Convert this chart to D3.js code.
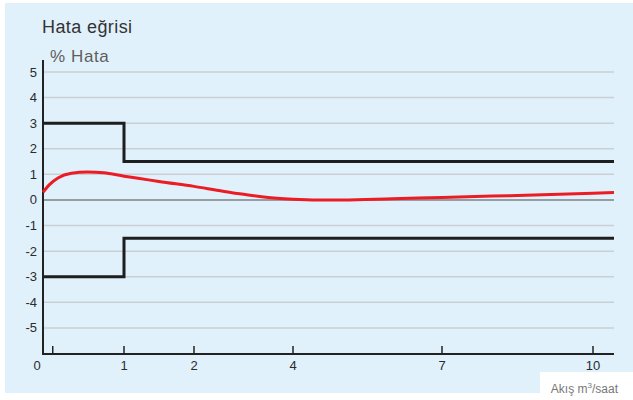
<!DOCTYPE html>
<html>
<head>
<meta charset="utf-8">
<script src="https://cdn.jsdelivr.net/npm/d3@7"></script>
<style>
  html, body { margin: 0; padding: 0; background: #fff; }
  svg { display: block; font-family: "Liberation Sans", Arial, Helvetica, sans-serif; }
</style>
</head>
<body>
<svg id="chart" width="633" height="400"></svg>
<script>
// Flow axis breakpoints (m³/h) and the tick values shown on it
const flowBreaks = [0, 1, 2, 4, 7, 10];
const xTickValues = [0.12, 1, 2, 4, 7, 10];
const xTickLabels = ["0", "1", "2", "4", "7", "10"];
const xLabelValues = [0, 1, 2, 4, 7, 10];
const yTickValues = [5, 4, 3, 2, 1, 0, -1, -2, -3, -4, -5];

// Error curve of the meter (% error vs flow)
const errorFlow  = [0, 0.08, 0.185, 0.35, 0.55, 0.75, 1, 1.2, 1.5, 2, 2.5, 3, 3.5, 4, 4.5, 5, 6, 7, 8, 9, 10, 10.42];
const errorValue = [0.3, 0.6, 0.86, 1.04, 1.09, 1.06, 0.93, 0.85, 0.72, 0.53, 0.37, 0.22, 0.1, 0.03, 0.0, 0.0, 0.05, 0.1, 0.15, 0.2, 0.26, 0.29];

// Permitted error limits (upper and lower step lines)
const limitFlow  = [0, 1, 1, 10.42];
const upperLimit = [3, 3, 1.5, 1.5];
const lowerLimit = [-3, -3, -1.5, -1.5];

const svg = d3.select("#chart");

// Light blue panel with a notch at the bottom right for the axis title
svg.append("path")
  .attr("d", "M5,3 H633 V372 H540 V393 H5 Z")
  .attr("fill", "#e0f1fb");

// Piecewise-linear flow scale
const x = d3.scaleLinear()
  .domain([0, 1, 2, 4, 7, 10, 10.42])
  .range([43, 124, 194, 293, 442, 593, 614]);

const y = d3.scaleLinear()
  .domain([-6.02, 5])
  .range([354, 72]);

const xMax = 10.42;

// Horizontal grid lines
svg.append("g")
  .selectAll("line")
  .data(yTickValues)
  .join("line")
  .attr("x1", x(0))
  .attr("x2", x(xMax))
  .attr("y1", d => y(d))
  .attr("y2", d => y(d))
  .attr("stroke", d => d === 0 ? "#7d8184" : "#c9cfd3")
  .attr("stroke-width", 1.5);

// Y tick labels
svg.append("g")
  .selectAll("text")
  .data(yTickValues)
  .join("text")
  .attr("x", 37)
  .attr("y", d => y(d))
  .attr("dy", "0.35em")
  .attr("text-anchor", "end")
  .attr("font-size", 13)
  .attr("fill", "#2b2b2b")
  .text(d => d);

// Axes lines
svg.append("line")
  .attr("x1", x(0)).attr("x2", x(0))
  .attr("y1", 60).attr("y2", y(-6.02))
  .attr("stroke", "#222").attr("stroke-width", 2);
svg.append("line")
  .attr("x1", x(0) - 1).attr("x2", x(xMax))
  .attr("y1", y(-6.02)).attr("y2", y(-6.02))
  .attr("stroke", "#222").attr("stroke-width", 2);

// X ticks pointing up
svg.append("g")
  .selectAll("line")
  .data(xTickValues)
  .join("line")
  .attr("x1", d => x(d)).attr("x2", d => x(d))
  .attr("y1", y(-6.02)).attr("y2", y(-6.02) - 8)
  .attr("stroke", "#222").attr("stroke-width", 1.5);

// X tick labels
svg.append("g")
  .selectAll("text")
  .data(xLabelValues)
  .join("text")
  .attr("x", (d, i) => x(d) - (d === 0 ? 6 : 0))
  .attr("y", 370)
  .attr("text-anchor", "middle")
  .attr("font-size", 13)
  .attr("fill", "#2b2b2b")
  .text((d, i) => xTickLabels[i]);

// Limit step lines
const limitLine = d3.line()
  .x((d, i) => x(limitFlow[i]))
  .y(d => y(d));

[upperLimit, lowerLimit].forEach(lim => {
  svg.append("path")
    .attr("d", limitLine(lim))
    .attr("fill", "none")
    .attr("stroke", "#1e1e1e")
    .attr("stroke-width", 3);
});

// Error curve
const curveLine = d3.line()
  .x((d, i) => x(errorFlow[i]))
  .y(d => y(d))
  .curve(d3.curveMonotoneX);

svg.append("path")
  .attr("d", curveLine(errorValue))
  .attr("fill", "none")
  .attr("stroke", "#ec1c24")
  .attr("stroke-width", 3);

// Titles
svg.append("text")
  .attr("x", 42).attr("y", 33)
  .attr("font-size", 18)
  .attr("letter-spacing", 0.4)
  .attr("fill", "#333")
  .text("Hata eğrisi");

svg.append("text")
  .attr("x", 50).attr("y", 62)
  .attr("font-size", 17)
  .attr("letter-spacing", 0.6)
  .attr("fill", "#5e5e5e")
  .text("% Hata");

// Flow axis title
const axisTitle = svg.append("text")
  .attr("x", 618).attr("y", 393)
  .attr("text-anchor", "end")
  .attr("font-size", 12)
  .attr("fill", "#777");
axisTitle.append("tspan").text("Akış m");
axisTitle.append("tspan").attr("font-size", 8).attr("dy", -5).text("3");
axisTitle.append("tspan").attr("dy", 5).text("/saat");
</script>
</body>
</html>
